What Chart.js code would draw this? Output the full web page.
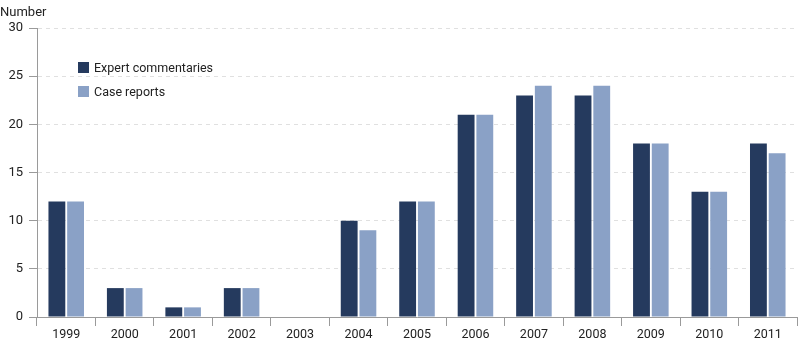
<!DOCTYPE html>
<html>
<head>
<meta charset="utf-8">
<script src="https://cdn.jsdelivr.net/npm/chart.js@4"></script>
<style>
    html, body { margin: 0; padding: 0; background: #fff; }
    #wrap { position: relative; width: 800px; height: 340px; font-family: Roboto, sans-serif; color: #222; }
    #ylabel { position: absolute; left: 0; top: 4px; font-size: 13px; }
    #legend { position: absolute; left: 78px; top: 55px; font-size: 12.5px; }
    #legend div { height: 24px; display: flex; align-items: center; }
    #legend span.sq { width: 11px; height: 11px; margin-right: 5px; display: inline-block; }
</style>
</head>
<body>
<div id="wrap">
    <canvas id="grafico" width="800" height="340"></canvas>
    <div id="ylabel">Number</div>
    <div id="legend">
        <div><span class="sq" style="background:#253a5e"></span>Expert commentaries</div>
        <div><span class="sq" style="background:#8aa1c6"></span>Case reports</div>
    </div>
</div>
<script>
const years = ["1999", "2000", "2001", "2002", "2003", "2004", "2005", "2006", "2007", "2008", "2009", "2010", "2011"];
const expertCommentaries = [12, 3, 1, 3, 0, 10, 12, 21, 23, 23, 18, 13, 18];
const caseReports = [12, 3, 1, 3, 0, 9, 12, 21, 24, 24, 18, 13, 17];
const yTicks = [0, 5, 10, 15, 20, 25, 30];

const canvas = document.getElementById("grafico");

new Chart(canvas, {
    type: "bar",

    data: {
        labels: years,
        datasets: [
            {
                label: "Expert commentaries",
                data: expertCommentaries,
                backgroundColor: "#253a5e",
                categoryPercentage: 0.64,
                barPercentage: 0.9
            },
            {
                label: "Case reports",
                data: caseReports,
                backgroundColor: "#8aa1c6",
                categoryPercentage: 0.64,
                barPercentage: 0.9
            }
        ]
    },

    options: {
        responsive: false,
        animation: false,
        layout: {
            padding: { top: 28, right: 3, bottom: 0, left: 0 }
        },

        plugins: {
            legend: { display: false },
            tooltip: { enabled: false }
        },

        scales: {
            x: {
                afterFit: scale => { scale.height = 23; },
                grid: {
                    offset: true,
                    drawOnChartArea: false,
                    tickLength: 9,
                    color: "#9a9a9a"
                },
                border: { color: "#9a9a9a" },
                ticks: {
                    color: "#222",
                    font: { family: "Roboto", size: 12.5 },
                    padding: 1
                }
            },

            y: {
                min: 0,
                max: 30,
                afterFit: scale => { scale.width = 37; },
                afterBuildTicks: scale => {
                    scale.ticks = yTicks.map(v => ({ value: v }));
                },
                grid: {
                    color: "#e0e0e0",
                    tickColor: "#9a9a9a",
                    tickLength: 8,
                    tickBorderDash: []
                },
                border: { color: "#9a9a9a", dash: [4, 4] },
                ticks: {
                    color: "#222",
                    font: { family: "Roboto", size: 13 },
                    padding: 6
                }
            }
        }
    }
});
</script>
</body>
</html>
